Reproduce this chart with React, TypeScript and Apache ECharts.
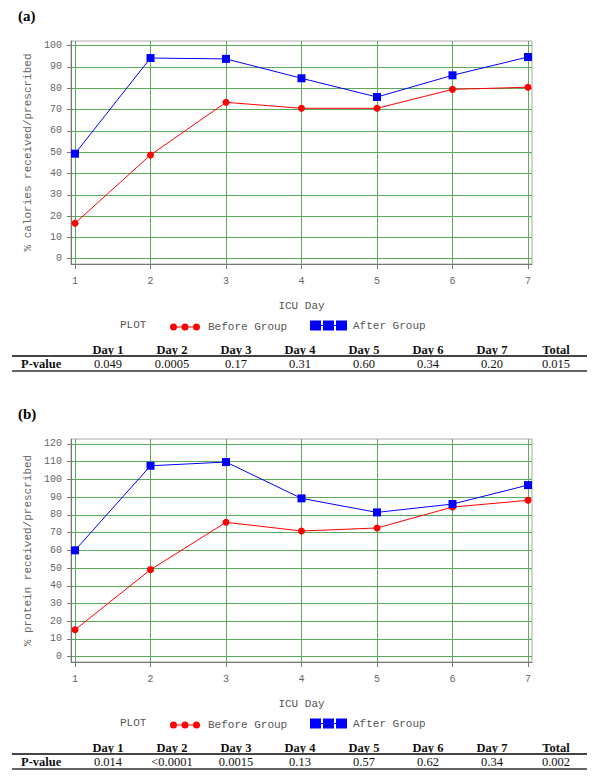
import React, { useEffect, useRef } from "react";
import * as echarts from "echarts";

const days = [1, 2, 3, 4, 5, 6, 7];
const caloriesBefore = [16.6, 48.7, 73.4, 70.6, 70.6, 79.5, 80.5];
const caloriesAfter = [49.3, 94.2, 93.8, 84.7, 75.9, 86.1, 94.7];
const proteinBefore = [15.2, 49.1, 75.8, 70.9, 72.6, 84.4, 88.2];
const proteinAfter = [60.0, 107.7, 109.8, 89.3, 81.4, 86.1, 96.8];
const caloriesTicks = [0, 10, 20, 30, 40, 50, 60, 70, 80, 90, 100];
const proteinTicks = [0, 10, 20, 30, 40, 50, 60, 70, 80, 90, 100, 110, 120];
const tableHeaders = ["Day 1", "Day 2", "Day 3", "Day 4", "Day 5", "Day 6", "Day 7", "Total"];
const caloriesP = ["0.049", "0.0005", "0.17", "0.31", "0.60", "0.34", "0.20", "0.015"];
const proteinP = ["0.014", "<0.0001", "0.0015", "0.13", "0.57", "0.62", "0.34", "0.002"];

const MONO = "'Liberation Mono', 'DejaVu Sans Mono', monospace";
const SERIF = "'Liberation Serif', 'Times New Roman', serif";
const GREEN = "#5aaa5a";
const AXIS = "#777";
const OFF = 398;

const redIcon =
  "path://M0,3.5A3.5,3.5 0 1,0 7,3.5A3.5,3.5 0 1,0 0,3.5Z" +
  "M7,3L11.5,3L11.5,4L7,4Z" +
  "M11.5,3.5A3.5,3.5 0 1,0 18.5,3.5A3.5,3.5 0 1,0 11.5,3.5Z" +
  "M18.5,3L23,3L23,4L18.5,4Z" +
  "M23,3.5A3.5,3.5 0 1,0 30,3.5A3.5,3.5 0 1,0 23,3.5Z";
const blueIcon =
  "path://M0,0L11,0L11,10L0,10Z" +
  "M11,4.5L13,4.5L13,5.5L11,5.5Z" +
  "M13,0L24,0L24,10L13,10Z" +
  "M24,4.5L26,4.5L26,5.5L24,5.5Z" +
  "M26,0L37,0L37,10L26,10Z";

function makeX(gridIndex: number) {
  return {
    type: "value",
    gridIndex,
    min: 0.947,
    max: 7.053,
    name: "ICU Day",
    nameLocation: "middle",
    nameGap: 36,
    nameTextStyle: { fontFamily: MONO, fontSize: 11, color: "#555" },
    axisLine: { show: true, onZero: false, lineStyle: { color: AXIS, width: 1 } },
    axisTick: { show: true, inside: false, length: 5, customValues: days, lineStyle: { color: AXIS } },
    axisLabel: { customValues: days, margin: 12, fontFamily: MONO, fontSize: 10, color: "#666" },
    splitLine: { show: true, lineStyle: { color: GREEN, width: 1 } },
  };
}

function makeY(gridIndex: number, min: number, max: number, ticks: number[], name: string) {
  return {
    type: "value",
    gridIndex,
    min,
    max,
    name,
    nameLocation: "middle",
    nameGap: 34,
    nameTextStyle: { fontFamily: MONO, fontSize: 11, color: "#666" },
    axisLine: { show: true, onZero: false, lineStyle: { color: AXIS, width: 1 } },
    axisTick: { show: true, inside: false, length: 4, customValues: ticks, lineStyle: { color: AXIS } },
    axisLabel: { customValues: ticks, margin: 9, fontFamily: MONO, fontSize: 10, color: "#666" },
    splitLine: { show: true, lineStyle: { color: GREEN, width: 1 } },
  };
}

function lineSeries(name: string, idx: number, values: number[], color: string, symbol: string, size: number) {
  return {
    type: "line",
    name,
    xAxisIndex: idx,
    yAxisIndex: idx,
    data: days.map((d, i) => [d, values[i]]),
    symbol,
    symbolSize: size,
    showSymbol: true,
    lineStyle: { color, width: 1 },
    itemStyle: { color, borderWidth: 0 },
    z: 5,
  };
}

function makeLegends(top: number) {
  return [
    {
      left: 170,
      top: top - 3.5,
      itemWidth: 30,
      itemHeight: 7,
      padding: 0,
      data: [{ name: "Before Group", icon: redIcon }],
      textStyle: { fontFamily: MONO, fontSize: 11, color: "#555", padding: [0, 0, 0, 3] },
      selectedMode: false,
    },
    {
      left: 310,
      top: top - 5,
      itemWidth: 37,
      itemHeight: 10,
      padding: 0,
      data: [{ name: "After Group", icon: blueIcon }],
      textStyle: { fontFamily: MONO, fontSize: 11, color: "#555", padding: [0, 0, 0, 1] },
      selectedMode: false,
    },
  ];
}

function PTable({ top, values }: { top: number; values: string[] }) {
  const cell = (text: string, i: number, bold: boolean, y: number) => (
    <div
      key={text + i + y}
      style={{
        position: "absolute",
        left: 76 + i * 64,
        top: y,
        width: 64,
        height: 14,
        lineHeight: "14px",
        textAlign: "center",
        fontFamily: SERIF,
        fontSize: 12.5,
        fontWeight: bold ? "bold" : "normal",
        color: "#111",
        whiteSpace: "nowrap",
      }}
    >
      {text}
    </div>
  );
  return (
    <div style={{ position: "absolute", left: 0, top: 0, width: 600 }}>
      {tableHeaders.map((h, i) => cell(h, i, true, top - 7))}
      <div style={{ position: "absolute", left: 12, top: top + 5, width: 575, height: 2, background: "#444" }} />
      <div
        style={{
          position: "absolute",
          left: 21,
          top: top + 7,
          width: 60,
          height: 14,
          lineHeight: "14px",
          fontFamily: SERIF,
          fontSize: 12.5,
          fontWeight: "bold",
          color: "#111",
          whiteSpace: "nowrap",
        }}
      >
        P-value
      </div>
      {values.map((v, i) => cell(v, i, false, top + 7))}
      <div style={{ position: "absolute", left: 12, top: top + 20, width: 575, height: 2, background: "#666" }} />
    </div>
  );
}

export default function App() {
  const ref = useRef<HTMLDivElement>(null);
  useEffect(() => {
    if (!ref.current) return;
    const chart = echarts.init(ref.current, null, { renderer: "svg" });
    chart.setOption({
      animation: false,
      backgroundColor: "#fff",
      grid: [
        { left: 71, top: 41, width: 461, height: 223, show: true, borderColor: "#aaa", borderWidth: 1, backgroundColor: "transparent" },
        { left: 71, top: 41 + OFF, width: 461, height: 223, show: true, borderColor: "#aaa", borderWidth: 1, backgroundColor: "transparent" },
      ],
      xAxis: [makeX(0), makeX(1)],
      yAxis: [
        makeY(0, -2.5, 102.2, caloriesTicks, "% calories received/prescribed"),
        makeY(1, -3.0, 122.8, proteinTicks, "% protein received/prescribed"),
      ],
      legend: [...makeLegends(325), ...makeLegends(325 + OFF)],
      graphic: [
        { type: "text", left: 18, top: 8, style: { text: "(a)", font: `bold 15px ${SERIF}`, fill: "#000" } },
        { type: "text", left: 18, top: 8 + OFF, style: { text: "(b)", font: `bold 15px ${SERIF}`, fill: "#000" } },
        { type: "text", left: 120, top: 319, style: { text: "PLOT", font: `11px ${MONO}`, fill: "#555" } },
        { type: "text", left: 120, top: 319 + OFF, style: { text: "PLOT", font: `11px ${MONO}`, fill: "#555" } },
      ],
      series: [
        lineSeries("Before Group", 0, caloriesBefore, "#ff0000", "circle", 7),
        lineSeries("After Group", 0, caloriesAfter, "#0000ff", "rect", 8),
        lineSeries("Before Group", 1, proteinBefore, "#ff0000", "circle", 7),
        lineSeries("After Group", 1, proteinAfter, "#0000ff", "rect", 8),
      ],
    });
    return () => chart.dispose();
  }, []);
  return (
    <div style={{ position: "absolute", left: 0, top: 0, width: 600, height: 784, background: "#fff", overflow: "hidden" }}>
      <div ref={ref} style={{ position: "absolute", left: 0, top: 0, width: 600, height: 784 }} />
      <PTable top={350} values={caloriesP} />
      <PTable top={350 + OFF} values={proteinP} />
    </div>
  );
}
